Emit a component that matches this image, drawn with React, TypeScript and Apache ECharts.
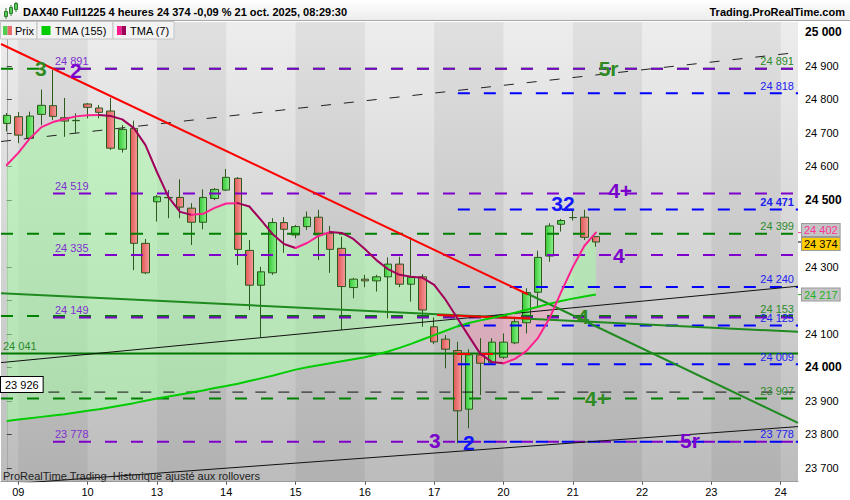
import React, { useEffect, useRef } from "react";
import * as echarts from "echarts";

// ---------------- data ----------------
const days = ["08", "09", "10", "13", "14", "15", "16", "17", "20", "21", "22", "23", "24"];
const sessions = ["00h", "04h", "08h", "12h", "16h", "20h"];

const opens = [24728, 24748, 24684, 24755, 24781, 24745, 24737, 24786, 24774, 24765, 24651, 24713, 24370, 24494, 24506, 24507, 24475, 24433, 24504, 24529, 24564, 24349, 24245, 24282, 24432, 24395, 24420, 24448, 24400, 24355, 24238, 24263, 24258, 24270, 24308, 24248, 24270, 24121, 24084, 24050, 23875, 24037, 24014, 24030, 24073, 24133, 24224, 24332, 24427, 24447, 24448, 24390];
const closes = [24752, 24693, 24750, 24782, 24749, 24735, 24736, 24776, 24761, 24654, 24710, 24370, 24282, 24509, 24507, 24478, 24433, 24507, 24531, 24567, 24352, 24245, 24285, 24432, 24412, 24420, 24448, 24395, 24352, 24241, 24263, 24258, 24270, 24308, 24248, 24269, 24171, 24076, 24054, 23870, 24037, 24012, 24075, 24075, 24136, 24223, 24328, 24422, 24438, 24447, 24388, 24374];
const lows = [24704, 24669, 24679, 24723, 24738, 24688, 24699, 24743, 24743, 24649, 24641, 24290, 24278, 24435, 24445, 24445, 24365, 24412, 24499, 24526, 24305, 24171, 24090, 24276, 24342, 24385, 24410, 24320, 24282, 24111, 24206, 24239, 24226, 24146, 24239, 24196, 24121, 24069, 23997, 23773, 23818, 23917, 24012, 24025, 24069, 24101, 24181, 24315, 24405, 24438, 24380, 24360];
const highs = [24759, 24762, 24763, 24829, 24888, 24804, 24758, 24789, 24783, 24804, 24723, 24736, 24383, 24514, 24529, 24561, 24490, 24531, 24535, 24592, 24568, 24380, 24300, 24445, 24448, 24425, 24465, 24470, 24422, 24390, 24267, 24276, 24276, 24328, 24330, 24388, 24278, 24149, 24096, 24076, 24054, 24087, 24087, 24101, 24151, 24236, 24348, 24430, 24443, 24470, 24470, 24392];

const tma155 = [23840, 23844, 23848, 23852, 23856, 23860, 23865, 23870, 23875, 23881, 23887, 23893, 23900, 23907, 23913, 23919, 23925, 23931, 23938, 23944, 23951, 23959, 23967, 23975, 23984, 23993, 24000, 24006, 24012, 24018, 24024, 24030, 24038, 24047, 24058, 24070, 24083, 24096, 24109, 24122, 24132, 24140, 24147, 24155, 24163, 24172, 24181, 24190, 24198, 24205, 24211, 24217];
const tma7 = [24604, 24640, 24683, 24717, 24732, 24741, 24749, 24752, 24753, 24750, 24740, 24714, 24664, 24583, 24508, 24464, 24455, 24458, 24476, 24489, 24490, 24480, 24440, 24398, 24368, 24356, 24371, 24392, 24404, 24401, 24383, 24353, 24320, 24293, 24276, 24270, 24267, 24246, 24201, 24147, 24093, 24040, 24016, 24012, 24025, 24049, 24088, 24147, 24225, 24299, 24362, 24402];

const yTicks = [23700, 23800, 23900, 24000, 24100, 24200, 24300, 24400, 24500, 24600, 24700, 24800, 24900, 25000];
// 24 400 and 24 200 are hidden behind the price tags in the reference
const yTickLabels = [23700, 23800, 23900, 24000, 24100, 24300, 24500, 24600, 24700, 24800, 24900, 25000];

const greenLevels = [24891, 24399, 24153, 23907];
const purpleLevels = [24891, 24519, 24335, 24149, 23778];
const blueLevels = [24818, 24471, 24240, 24125, 24009, 23778];
const supportLevel = 24041;
const markerLevel = 23926;

// trendlines: [candle index, price]
const redTrend = [[-0.5, 24965], [45.1, 24218]];
const redFlat = [[37.25, 24156], [45.3, 24146]];
const redStubA = [[39.0, 24040], [40.1, 24040]];
const redStubB = [[41.0, 24040], [42.1, 24040]];
const blackUpper = [[-0.5, 24674], [68.5, 24940]];
const blackMid = [[-0.5, 24014], [68.5, 24242]];
const blackLow = [[-0.5, 23650], [68.5, 23823]];
const greenFlat = [[-0.5, 24221], [68.5, 24106]];
const greenSteep = [[45.0, 24221], [68.5, 23834]];

// wave annotations: text, [candle index, price]
const waveText = ["3", "2", "5r", "4+", "32", "4", "4", "4+", "3", "2", "5r"];
const waveAt = [[2.96, 24891], [5.99, 24886], [52.1, 24891], [53.1, 24527], [48.15, 24490], [53.0, 24335], [49.9, 24153], [51.1, 23907], [37.07, 23781], [40.0, 23776], [59.15, 23781]];
const waveKind = ["g", "p", "g", "p", "b", "p", "g", "g", "p", "b", "p"];

// ---------------- styling ----------------
const FONT = '"Liberation Sans", Arial, sans-serif';
const Y_MIN = 23658.5;
const Y_MAX = 25030.7;
const X_MIN = -0.5;
const X_MAX = 68.5;
const COL = {
  green: "#008000",
  purple: "#7f00cc",
  blue: "#0000ff",
  wave: { g: "#2e8b22", p: "#7a00cc", b: "#1414ff" } as Record<string, string>,
  waveShadow: { g: "#0e4a0e", p: "#3a0060", b: "#00007a" } as Record<string, string>,
  lblPurple: "#8030d0",
  lblGreen: "#2a8a2a",
  lblBlue: "#2020f0",
};

function fmt(v: number) {
  return String(Math.round(v)).replace(/\B(?=(\d{3})+(?!\d))/g, " ");
}

const cats: string[] = [];
cats.push(`${days[0]} ${sessions[5]}`);
for (let d = 1; d < days.length; d++) for (const s of sessions) cats.push(`${days[d]} ${s}`);
const categories = cats.slice(0, 69);
const isDayStart = (i: number) => categories[i].endsWith(" 00h");

function buildOption() {
  const lg = (c1: string, c2: string, vertical = false) =>
    new echarts.graphic.LinearGradient(0, 0, vertical ? 0 : 1, vertical ? 1 : 0, [
      { offset: 0, color: c1 },
      { offset: 1, color: c2 },
    ]);

  const bandsRender = (params: any, api: any) => {
    const cs = params.coordSys;
    const children: any[] = [
      {
        type: "rect",
        shape: { x: cs.x, y: cs.y, width: cs.width, height: cs.height },
        style: { fill: lg("#ededed", "#bcbcbc", true) },
      },
    ];
    for (let d = 1; d < days.length; d += 2) {
      const s = 1 + (d - 1) * 6;
      const x1 = api.coord([s, Y_MIN])[0];
      const x2 = Math.min(api.coord([s + 6, Y_MIN])[0], cs.x + cs.width);
      children.push({
        type: "rect",
        shape: { x: x1, y: cs.y, width: x2 - x1, height: cs.height },
        style: { fill: "rgba(0,0,0,0.055)" },
      });
    }
    return { type: "group", children, silent: true };
  };

  const fillRender = (params: any, api: any) => {
    const P = (x: number, v: number) => api.coord([x, v]);
    const poly = (pts: number[][], pos: boolean) => ({
      type: "polygon",
      shape: { points: pts },
      style: { fill: pos ? "rgba(165,255,165,0.5)" : "rgba(255,140,175,0.38)" },
    });
    const out: any[] = [];
    let up: number[][] = [P(0, tma7[0])];
    let lo: number[][] = [P(0, tma155[0])];
    let sign = tma7[0] - tma155[0] >= 0 ? 1 : -1;
    for (let i = 0; i < tma7.length - 1; i++) {
      const d0 = tma7[i] - tma155[i];
      const d1 = tma7[i + 1] - tma155[i + 1];
      if (d0 * d1 < 0) {
        const t = d0 / (d0 - d1);
        const c = P(i + t, tma7[i] + (tma7[i + 1] - tma7[i]) * t);
        up.push(c);
        out.push(poly(up.concat(lo.slice().reverse()), sign > 0));
        up = [c];
        lo = [c];
        sign = -sign;
      }
      up.push(P(i + 1, tma7[i + 1]));
      lo.push(P(i + 1, tma155[i + 1]));
    }
    out.push(poly(up.concat(lo.slice().reverse()), sign > 0));
    return { type: "group", children: out, silent: true };
  };

  const tma7Render = (params: any, api: any) => {
    const P = (x: number, v: number) => api.coord([x, v]);
    const runs: { pts: number[][]; up: boolean }[] = [];
    let cur: number[][] = [P(0, tma7[0])];
    let dir = tma7[1] >= tma7[0];
    for (let i = 1; i < tma7.length; i++) {
      const d = tma7[i] >= tma7[i - 1];
      if (d !== dir) {
        runs.push({ pts: cur, up: dir });
        cur = [cur[cur.length - 1]];
        dir = d;
      }
      cur.push(P(i, tma7[i]));
    }
    runs.push({ pts: cur, up: dir });
    return {
      type: "group",
      silent: true,
      children: runs.map((r) => ({
        type: "polyline",
        shape: { points: r.pts },
        style: { stroke: r.up ? "#ff2090" : "#a0005a", lineWidth: 2, fill: "none", lineJoin: "round", lineCap: "round" },
      })),
    };
  };

  const levelsRender = (params: any, api: any) => {
    const specs: any[] = [
      { v: supportLevel, from: X_MIN, color: "#007800", dash: null, w: 2 },
      { v: markerLevel, from: 3.6, color: "#111111", dash: [11, 12], w: 1 },
      ...greenLevels.map((v) => ({ v, from: X_MIN, color: COL.green, dash: [12, 14], w: 2 })),
      ...purpleLevels.map((v) => ({ v, from: 4.0, color: COL.purple, dash: [12, 14], w: 2 })),
      ...blueLevels.map((v) => ({ v, from: 39.05, color: COL.blue, dash: [12, 14], w: 2 })),
    ];
    return {
      type: "group",
      silent: true,
      children: specs.map((s) => {
        const a = api.coord([s.from, s.v]);
        const b = api.coord([X_MAX, s.v]);
        return {
          type: "line",
          shape: { x1: a[0], y1: a[1], x2: b[0], y2: b[1] },
          style: { stroke: s.color, lineWidth: s.w, lineDash: s.dash || undefined },
        };
      }),
    };
  };

  const textsRender = (params: any, api: any) => {
    const cs = params.coordSys;
    const P = (x: number, v: number) => api.coord([x, v]);
    const ch: any[] = [];
    const txt = (x: number, y: number, text: string, fill: string, size: number, bold: boolean, align = "left", va = "bottom", extra: any = {}) =>
      ch.push({
        type: "text",
        x,
        y,
        style: { text, fill, font: `${bold ? "bold " : ""}${size}px ${FONT}`, align, verticalAlign: va, ...extra },
      });
    // left purple level labels
    purpleLevels.forEach((v) => {
      const p = P(4.17, v);
      txt(p[0], p[1] - 2, fmt(v), COL.lblPurple, 11, false);
    });
    // support label
    {
      const p = P(0, supportLevel);
      txt(cs.x + 2, p[1] - 2, fmt(supportLevel), COL.lblGreen, 11, false);
    }
    // marker box
    {
      const p = P(0, markerLevel);
      txt(cs.x, p[1], fmt(markerLevel), "#000", 11, false, "left", "bottom", {
        backgroundColor: "#ffffff",
        borderColor: "#000000",
        borderWidth: 1,
        padding: [2, 4, 2, 4],
      });
    }
    // right labels
    const rx = cs.x + cs.width - 4;
    greenLevels.forEach((v) => {
      const p = P(0, v);
      txt(rx, p[1] - 2, fmt(v), COL.lblGreen, 11, false, "right");
    });
    blueLevels.forEach((v) => {
      const p = P(0, v);
      txt(rx, p[1] - 2, fmt(v), COL.lblBlue, 11, v === 24471, "right");
    });
    // wave labels
    waveText.forEach((t, i) => {
      const p = P(waveAt[i][0], waveAt[i][1]);
      txt(p[0], p[1], t, COL.wave[waveKind[i]], 21, true, "center", "middle", {
        shadowColor: COL.waveShadow[waveKind[i]],
        shadowOffsetX: 1,
        shadowOffsetY: 1,
        shadowBlur: 0,
      });
    });
    return { type: "group", children: ch, silent: true };
  };

  const tagsRender = (params: any, api: any) => {
    const cs = params.coordSys;
    const x0 = cs.x + cs.width;
    const ch: any[] = [];
    const tag = (v: number, dy: number, bg: string, color: string) => {
      const y = api.coord([0, v])[1];
      ch.push({ type: "line", shape: { x1: x0, y1: y, x2: x0 + 4, y2: y }, style: { stroke: color === "#000000" ? "#000" : color, lineWidth: 1 } });
      ch.push({
        type: "text",
        x: x0 + 4,
        y: y + dy,
        style: {
          text: fmt(v),
          fill: color,
          font: `11px ${FONT}`,
          align: "left",
          verticalAlign: "middle",
          backgroundColor: bg,
          borderColor: "#9a9a9a",
          borderWidth: 1,
          padding: [1, 2, 0, 2],
        },
      });
    };
    tag(tma7[tma7.length - 1], -2.5, "#c4c4c4", "#ff3399");
    tag(closes[closes.length - 1], 2, "#ffcc00", "#000000");
    tag(tma155[tma155.length - 1], 0, "#c4c4c4", "#22b022");
    return { type: "group", children: ch, silent: true };
  };

  const trend = (data: number[][], color: string, width: number, type: any = "solid", z = 6) => ({
    type: "line",
    xAxisIndex: 1,
    yAxisIndex: 0,
    data,
    symbol: "none",
    silent: true,
    clip: true,
    z,
    lineStyle: { color, width, type },
  });

  const single = [[0, 24000]];

  return {
    animation: false,
    backgroundColor: "#ffffff",
    grid: { left: 1, top: 22, width: 797, height: 459.7, outerBoundsMode: "none", containLabel: false },
    xAxis: [
      {
        type: "category",
        data: categories,
        boundaryGap: true,
        axisLine: { show: true, lineStyle: { color: "#9a9a9a" } },
        axisTick: { show: true, alignWithLabel: true, interval: (i: number) => isDayStart(i), length: 3, lineStyle: { color: "#555" } },
        axisLabel: {
          interval: (i: number) => isDayStart(i),
          formatter: (v: string) => v.slice(0, 2),
          fontSize: 11,
          fontFamily: FONT,
          color: "#000",
          margin: 5,
        },
        splitLine: { show: false },
      },
      { type: "value", min: X_MIN, max: X_MAX, show: false, gridIndex: 0 },
    ],
    yAxis: {
      type: "value",
      position: "right",
      min: Y_MIN,
      max: Y_MAX,
      splitLine: { show: false },
      axisLine: { show: true, lineStyle: { color: "#a8a8a8" } },
      axisTick: { show: true, length: 5, lineStyle: { color: "#444" }, customValues: yTicks },
      axisLabel: {
        customValues: yTickLabels,
        margin: 7,
        formatter: (v: number) => (Math.round(v) % 500 === 0 ? `{b|${fmt(v)}}` : `{n|${fmt(v)}}`),
        rich: {
          b: { fontWeight: "bold", fontSize: 12, color: "#000", fontFamily: FONT },
          n: { fontSize: 11, color: "#000", fontFamily: FONT },
        },
      },
    },
    series: [
      { type: "custom", xAxisIndex: 1, yAxisIndex: 0, data: single, renderItem: bandsRender, z: 0, silent: true },
      { type: "custom", xAxisIndex: 1, yAxisIndex: 0, data: single, renderItem: fillRender, z: 1, silent: true },
      {
        type: "candlestick",
        xAxisIndex: 0,
        yAxisIndex: 0,
        data: opens.map((o, i) => [o, closes[i], lows[i], highs[i]]),
        barWidth: 8,
        silent: true,
        z: 2,
        itemStyle: {
          color: lg("#35c935", "#8cf08c"),
          color0: lg("#e05858", "#f59a9a"),
          borderColor: "#2b5a1b",
          borderColor0: "#2b5a1b",
          borderColorDoji: "#2b5a1b",
          borderWidth: 1,
        },
      },
      { type: "custom", xAxisIndex: 1, yAxisIndex: 0, data: single, renderItem: levelsRender, z: 3, silent: true },
      trend(blackUpper, "#222222", 1, [10, 13], 4),
      trend(blackMid, "#111111", 1, "solid", 4),
      trend(blackLow, "#111111", 1, "solid", 4),
      trend(greenFlat, "#1f8a1f", 2, "solid", 4),
      trend(greenSteep, "#1f8a1f", 2, "solid", 4),
      trend(redTrend, "#ff0000", 2, "solid", 5),
      trend(redFlat, "#ff0000", 2, "solid", 5),
      trend(redStubA, "#ff0000", 2, "solid", 5),
      trend(redStubB, "#ff0000", 2, "solid", 5),
      {
        type: "line",
        xAxisIndex: 1,
        yAxisIndex: 0,
        data: tma155.map((v, i) => [i, v]),
        symbol: "none",
        silent: true,
        z: 6,
        lineStyle: { color: "#00cc00", width: 2 },
      },
      { type: "custom", xAxisIndex: 1, yAxisIndex: 0, data: single, renderItem: tma7Render, z: 7, silent: true },
      { type: "custom", xAxisIndex: 1, yAxisIndex: 0, data: single, renderItem: textsRender, z: 8, silent: true, clip: false },
      { type: "custom", xAxisIndex: 1, yAxisIndex: 0, data: single, renderItem: tagsRender, z: 9, silent: true, clip: false },
    ],
    graphic: [
      {
        type: "rect",
        z: 100,
        shape: { x: 0, y: 0, width: 850, height: 21 },
        style: { fill: lg("#ffffff", "#ebebeb", true) },
      },
      { type: "line", z: 101, shape: { x1: 0, y1: 20.5, x2: 850, y2: 20.5 }, style: { stroke: "#a8a8a8", lineWidth: 1 } },
      // small icon
      { type: "line", z: 101, shape: { x1: 6, y1: 8, x2: 6, y2: 19 }, style: { stroke: "#2f7a2f", lineWidth: 1 } },
      { type: "rect", z: 102, shape: { x: 4.5, y: 11.5, width: 3, height: 5 }, style: { fill: "#55cc55", stroke: "#2f7a2f", lineWidth: 1 } },
      { type: "line", z: 101, shape: { x1: 11, y1: 5, x2: 11, y2: 16 }, style: { stroke: "#2f7a2f", lineWidth: 1 } },
      { type: "rect", z: 102, shape: { x: 9.5, y: 7.5, width: 3, height: 6 }, style: { fill: "#55cc55", stroke: "#2f7a2f", lineWidth: 1 } },
      { type: "line", z: 101, shape: { x1: 16, y1: 2, x2: 16, y2: 12 }, style: { stroke: "#2f7a2f", lineWidth: 1 } },
      { type: "rect", z: 102, shape: { x: 14.5, y: 3.5, width: 3, height: 6 }, style: { fill: "#55cc55", stroke: "#2f7a2f", lineWidth: 1 } },
      {
        type: "text",
        z: 102,
        x: 23,
        y: 12,
        style: { text: "DAX40 Full1225 4 heures 24 374 -0,09 % 21 oct. 2025, 08:29:30", font: `bold 11px ${FONT}`, fill: "#000", verticalAlign: "middle" },
      },
      {
        type: "text",
        z: 102,
        x: 845,
        y: 12,
        style: { text: "Trading.ProRealTime.com", font: `bold 11px ${FONT}`, fill: "#000", align: "right", verticalAlign: "middle" },
      },
      // legend boxes
      { type: "rect", z: 100, shape: { x: 0.5, y: 21.5, width: 36.5, height: 17.5 }, style: { fill: "#f3f3f3", stroke: "#c4c4c4", lineWidth: 1 } },
      { type: "rect", z: 100, shape: { x: 37, y: 21.5, width: 76, height: 17.5 }, style: { fill: "#f3f3f3", stroke: "#c4c4c4", lineWidth: 1 } },
      { type: "rect", z: 100, shape: { x: 113, y: 21.5, width: 61, height: 17.5 }, style: { fill: "#f3f3f3", stroke: "#c4c4c4", lineWidth: 1 } },
      { type: "rect", z: 101, shape: { x: 3, y: 26, width: 4.5, height: 9 }, style: { fill: "#4fcf4f" } },
      { type: "rect", z: 101, shape: { x: 7.5, y: 26, width: 4.5, height: 9 }, style: { fill: "#e86a6a" } },
      { type: "text", z: 101, x: 15, y: 30.5, style: { text: "Prix", font: `11px ${FONT}`, fill: "#000", verticalAlign: "middle" } },
      { type: "rect", z: 101, shape: { x: 41.5, y: 26, width: 9, height: 9 }, style: { fill: "#00cc00" } },
      { type: "text", z: 101, x: 55, y: 30.5, style: { text: "TMA (155)", font: `11px ${FONT}`, fill: "#000", verticalAlign: "middle" } },
      { type: "rect", z: 101, shape: { x: 117, y: 26, width: 4.5, height: 9 }, style: { fill: "#ff1a8c" } },
      { type: "rect", z: 101, shape: { x: 121.5, y: 26, width: 4.5, height: 9 }, style: { fill: "#a0005a" } },
      { type: "text", z: 101, x: 130, y: 30.5, style: { text: "TMA (7)", font: `11px ${FONT}`, fill: "#000", verticalAlign: "middle" } },
      {
        type: "text",
        z: 100,
        x: 3,
        y: 476,
        style: { text: "ProRealTime Trading  Historique ajusté aux rollovers", font: `11px ${FONT}`, fill: "#222", verticalAlign: "middle" },
      },
    ],
  };
}

export default function App() {
  const ref = useRef<HTMLDivElement>(null);
  useEffect(() => {
    if (!ref.current) return;
    const chart = echarts.init(ref.current, null, { renderer: "svg" });
    chart.setOption(buildOption() as any);
    return () => chart.dispose();
  }, []);
  return <div ref={ref} style={{ position: "fixed", left: 0, top: 0, width: 850, height: 500 }} />;
}
